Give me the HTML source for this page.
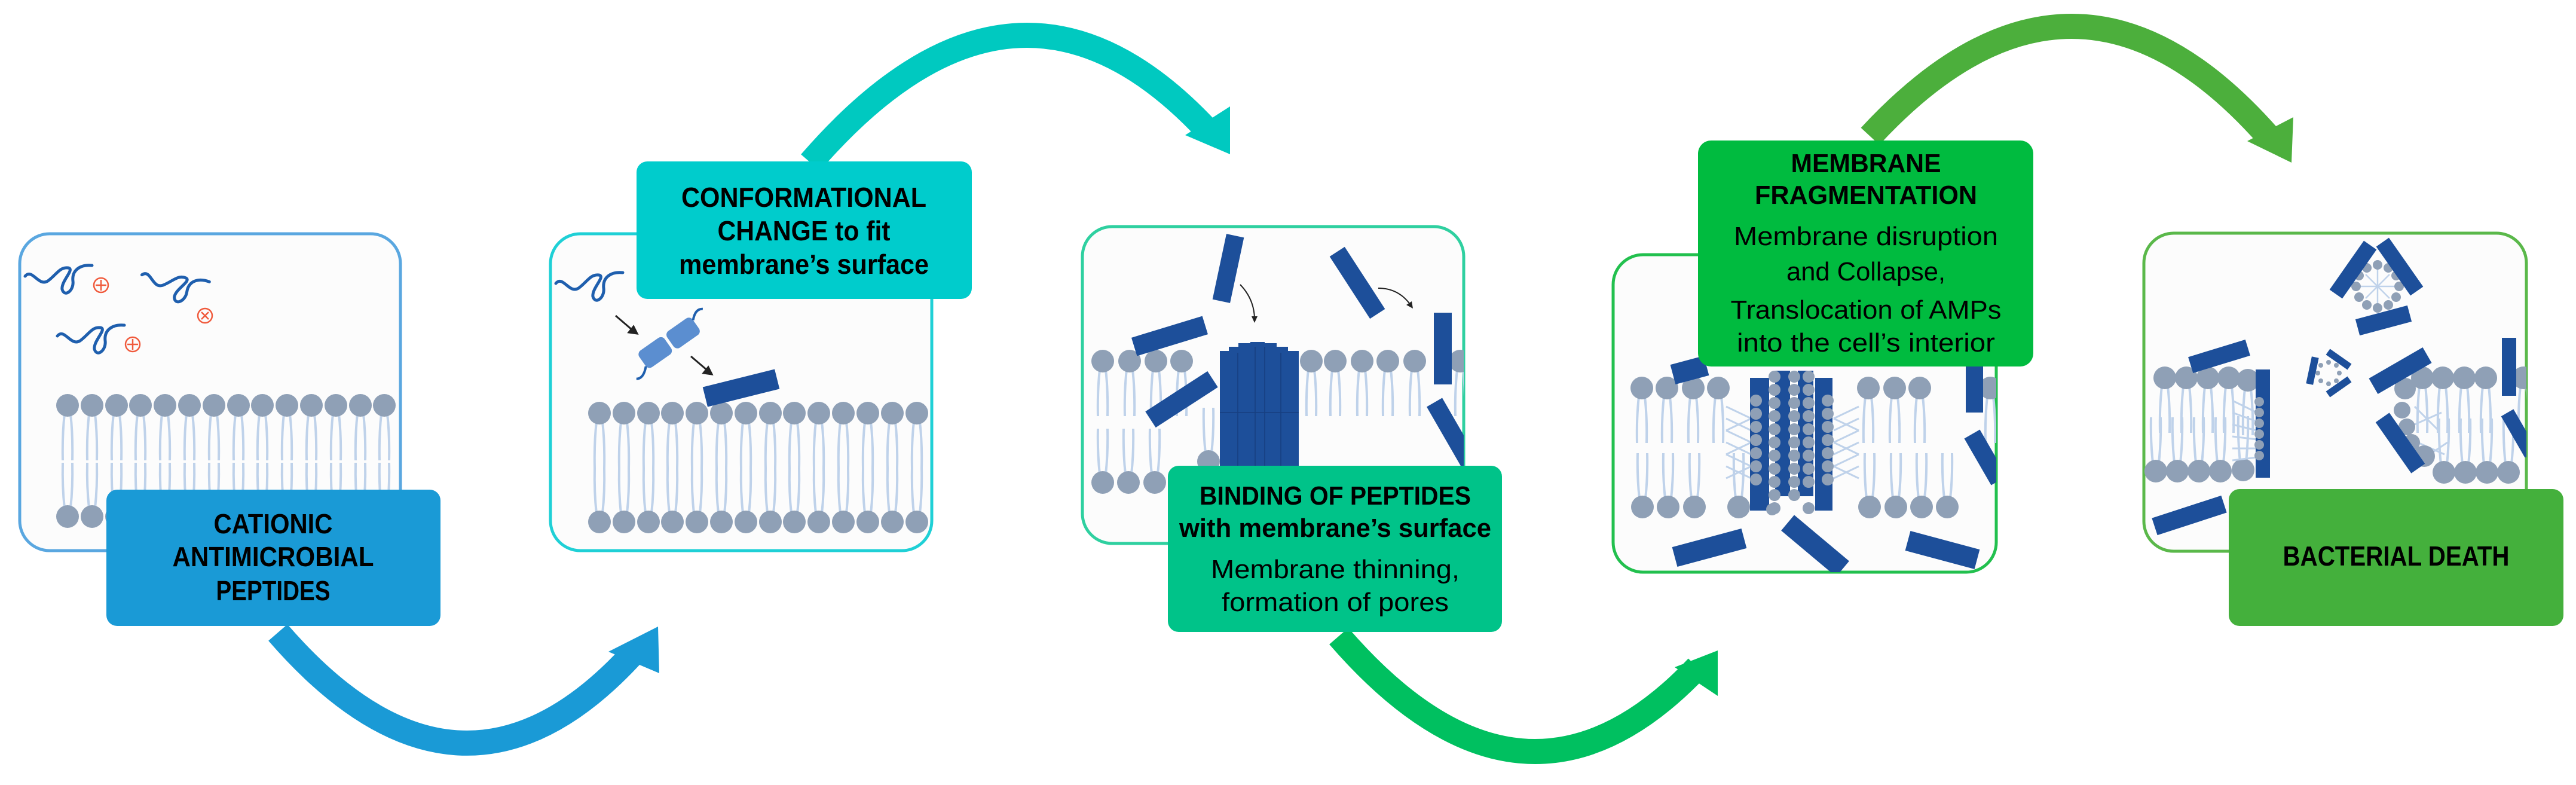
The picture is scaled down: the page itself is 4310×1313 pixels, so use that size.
<!DOCTYPE html>
<html><head><meta charset="utf-8"><style>
html,body{margin:0;padding:0;background:#fff}
svg{display:block}
text{font-family:"Liberation Sans",sans-serif;fill:#000}
.bd{font-weight:bold}
.b{fill:#1d4f9a}
.h{fill:#8fa0b6}
</style></head><body>
<svg width="4310" height="1313" viewBox="0 0 4310 1313" xmlns="http://www.w3.org/2000/svg">
<defs>
<g id="lu"><path d="M-5,14 Q-9,50 -8,92 M5,14 Q9,50 8,92" stroke="#bfd2ea" stroke-width="4" fill="none"/><circle r="19" class="h"/></g>
<g id="ld"><path d="M-5,-14 Q-9,-50 -8,-90 M5,-14 Q9,-50 8,-90" stroke="#bfd2ea" stroke-width="4" fill="none"/><circle r="19" class="h"/></g>
<g id="sq"><path d="M0,22 C12,8 22,40 38,30 C52,20 58,6 72,8 C84,10 60,30 62,44 C66,58 82,46 80,30 C78,12 92,2 112,4" stroke="#1f5fae" stroke-width="5" fill="none" stroke-linecap="round"/></g>
<clipPath id="c1"><rect x="33" y="391" width="637" height="530" rx="50"/></clipPath>
<clipPath id="c2"><rect x="921" y="391" width="638" height="530" rx="50"/></clipPath>
<clipPath id="c3"><rect x="1811" y="379" width="638" height="530" rx="50"/></clipPath>
<clipPath id="c4"><rect x="2699" y="426" width="641" height="531" rx="50"/></clipPath>
<clipPath id="c5"><rect x="3587" y="390" width="640" height="532" rx="50"/></clipPath>
</defs>

<!-- ARROWS -->
<path d="M465,1058 Q770,1410 1060,1092" stroke="#1a9ad6" stroke-width="42" fill="none"/>
<polygon points="1101,1048 1018,1090 1103,1126" fill="#1a9ad6"/>
<path d="M1356,272 Q1700,-125 2020,218" stroke="#00c9c0" stroke-width="42" fill="none"/>
<polygon points="2058,258 1983,226 2058,178" fill="#00c9c0"/>
<path d="M2240,1064 Q2550,1422 2840,1116" stroke="#00c060" stroke-width="42" fill="none"/>
<polygon points="2874,1088 2802,1116 2874,1164" fill="#00c060"/>
<path d="M3129,228 Q3470,-140 3795,228" stroke="#4caf3c" stroke-width="42" fill="none"/>
<polygon points="3834,272 3760,236 3837,196" fill="#4caf3c"/>

<!-- PANEL 1 -->
<rect x="33" y="391" width="637" height="530" rx="50" fill="#fcfcfc" stroke="#5aa7e0" stroke-width="5"/>
<g clip-path="url(#c1)">
<use href="#lu" x="113" y="678"/><use href="#lu" x="154" y="678"/><use href="#lu" x="195" y="678"/><use href="#lu" x="235" y="678"/><use href="#lu" x="276" y="678"/><use href="#lu" x="317" y="678"/><use href="#lu" x="358" y="678"/><use href="#lu" x="399" y="678"/><use href="#lu" x="439" y="678"/><use href="#lu" x="480" y="678"/><use href="#lu" x="521" y="678"/><use href="#lu" x="562" y="678"/><use href="#lu" x="603" y="678"/><use href="#lu" x="643" y="678"/>
<use href="#ld" x="113" y="864"/><use href="#ld" x="154" y="864"/><use href="#ld" x="195" y="864"/><use href="#ld" x="235" y="864"/><use href="#ld" x="276" y="864"/><use href="#ld" x="317" y="864"/><use href="#ld" x="358" y="864"/><use href="#ld" x="399" y="864"/><use href="#ld" x="439" y="864"/><use href="#ld" x="480" y="864"/><use href="#ld" x="521" y="864"/><use href="#ld" x="562" y="864"/><use href="#ld" x="603" y="864"/><use href="#ld" x="643" y="864"/>
</g>
<use href="#sq" x="42" y="440"/><use href="#sq" x="234" y="452" transform="rotate(15 290 480)"/><use href="#sq" x="96" y="540"/>
<g fill="none" stroke="#f05a3c" stroke-width="2.5"><circle cx="169" cy="477" r="12"/><path d="M169,468v18M160,477h18"/><circle cx="343" cy="528" r="12"/><path d="M337,522l12,12M349,522l-12,12"/><circle cx="222" cy="576" r="12"/><path d="M222,567v18M213,576h18"/></g>
<rect x="178" y="819" width="559" height="228" rx="18" fill="#1a9ad6"/>
<text class="bd" font-size="46" x="457" y="892" text-anchor="middle" textLength="199" lengthAdjust="spacingAndGlyphs">CATIONIC</text>
<text class="bd" font-size="46" x="457" y="947" text-anchor="middle" textLength="337" lengthAdjust="spacingAndGlyphs">ANTIMICROBIAL</text>
<text class="bd" font-size="46" x="457" y="1004" text-anchor="middle" textLength="191" lengthAdjust="spacingAndGlyphs">PEPTIDES</text>

<!-- PANEL 2 -->
<rect x="921" y="391" width="638" height="530" rx="50" fill="#fcfcfc" stroke="#1fd0d6" stroke-width="5"/>
<g clip-path="url(#c2)">
<use href="#lu" x="1003" y="691"/><use href="#lu" x="1044" y="691"/><use href="#lu" x="1085" y="691"/><use href="#lu" x="1125" y="691"/><use href="#lu" x="1166" y="691"/><use href="#lu" x="1207" y="691"/><use href="#lu" x="1248" y="691"/><use href="#lu" x="1289" y="691"/><use href="#lu" x="1329" y="691"/><use href="#lu" x="1370" y="691"/><use href="#lu" x="1411" y="691"/><use href="#lu" x="1452" y="691"/><use href="#lu" x="1493" y="691"/><use href="#lu" x="1534" y="691"/>
<use href="#ld" x="1003" y="873"/><use href="#ld" x="1044" y="873"/><use href="#ld" x="1085" y="873"/><use href="#ld" x="1125" y="873"/><use href="#ld" x="1166" y="873"/><use href="#ld" x="1207" y="873"/><use href="#ld" x="1248" y="873"/><use href="#ld" x="1289" y="873"/><use href="#ld" x="1329" y="873"/><use href="#ld" x="1370" y="873"/><use href="#ld" x="1411" y="873"/><use href="#ld" x="1452" y="873"/><use href="#ld" x="1493" y="873"/><use href="#ld" x="1534" y="873"/>
</g>
<use href="#sq" x="930" y="452"/>
<g stroke="#222" stroke-width="3" fill="#222"><path d="M1030,528 L1058,552"/><polygon points="1066,558 1052,556 1060,546"/><path d="M1156,596 L1183,619"/><polygon points="1191,626 1177,624 1185,614"/></g>
<g transform="translate(1120,573) rotate(-35)"><rect x="-55" y="-17" width="52" height="34" rx="8" fill="#5b8ed0"/><rect x="2" y="-17" width="52" height="34" rx="8" fill="#5b8ed0"/><path d="M-55,10 Q-70,25 -80,18 M54,-8 Q68,-22 78,-14" stroke="#1f5fae" stroke-width="4" fill="none"/></g>
<rect x="-62" y="-17" width="124" height="34" class="b" transform="translate(1240,649) rotate(-14)"/>
<rect x="1065" y="270" width="561" height="230" rx="18" fill="#00cccc"/>
<text class="bd" font-size="46" x="1345" y="346" text-anchor="middle" textLength="410" lengthAdjust="spacingAndGlyphs">CONFORMATIONAL</text>
<text class="bd" font-size="46" x="1345" y="402" text-anchor="middle" textLength="289" lengthAdjust="spacingAndGlyphs">CHANGE to fit</text>
<text class="bd" font-size="46" x="1345" y="458" text-anchor="middle" textLength="418" lengthAdjust="spacingAndGlyphs">membrane’s surface</text>

<!-- PANEL 3 -->
<rect x="1811" y="379" width="638" height="530" rx="50" fill="#fcfcfc" stroke="#2fd0a0" stroke-width="5"/>
<g clip-path="url(#c3)">
<use href="#lu" x="1845" y="604"/><use href="#lu" x="1890" y="604"/><use href="#lu" x="1934" y="604"/><use href="#lu" x="1977" y="604"/>
<use href="#lu" x="2194" y="604"/><use href="#lu" x="2234" y="604"/><use href="#lu" x="2279" y="604"/><use href="#lu" x="2322" y="604"/><use href="#lu" x="2367" y="604"/><use href="#lu" x="2443" y="604"/>
<use href="#ld" x="1845" y="807"/><use href="#ld" x="1888" y="807"/><use href="#ld" x="1932" y="807"/><use href="#ld" x="2022" y="772"/>
<g class="b"><rect x="2041" y="587" width="30" height="200"/><rect x="2056" y="580" width="30" height="210"/><rect x="2072" y="574" width="28" height="215"/><rect x="2092" y="572" width="24" height="215"/><rect x="2108" y="574" width="28" height="215"/><rect x="2125" y="580" width="30" height="210"/><rect x="2143" y="587" width="30" height="200"/></g>
<g stroke="#163f80" stroke-width="1.5"><path d="M2071,590V780M2100,580V780M2116,580V780M2143,590V780M2041,690H2173"/></g>
<rect x="-15" y="-56" width="30" height="112" class="b" transform="translate(2055,449) rotate(12)"/>
<rect x="-15" y="-62" width="30" height="124" class="b" transform="translate(2271,473) rotate(-33)"/>
<rect x="-62" y="-16" width="124" height="32" class="b" transform="translate(1957,562) rotate(-17)"/>
<rect x="-62" y="-16" width="124" height="32" class="b" transform="translate(1977,668) rotate(-33)"/>
<rect x="2399" y="523" width="30" height="120" class="b"/>
<rect x="-15" y="-60" width="30" height="120" class="b" transform="translate(2430,725) rotate(-30)"/>
<path d="M2075,476 Q2098,500 2099,532" stroke="#222" stroke-width="2" fill="none"/><polygon points="2099,540 2094,529 2104,529" fill="#222"/>
<path d="M2306,482 Q2340,482 2360,510" stroke="#222" stroke-width="2" fill="none"/><polygon points="2364,516 2353,510 2362,504" fill="#222"/>
</g>
<rect x="1954" y="779" width="559" height="278" rx="18" fill="#00c389"/>
<text class="bd" font-size="44" x="2234" y="844" text-anchor="middle" textLength="454" lengthAdjust="spacingAndGlyphs">BINDING OF PEPTIDES</text>
<text class="bd" font-size="44" x="2234" y="898" text-anchor="middle" textLength="522" lengthAdjust="spacingAndGlyphs">with membrane’s surface</text>
<text font-size="44" x="2234" y="967" text-anchor="middle" textLength="416" lengthAdjust="spacingAndGlyphs">Membrane thinning,</text>
<text font-size="44" x="2234" y="1022" text-anchor="middle" textLength="380" lengthAdjust="spacingAndGlyphs">formation of pores</text>

<!-- PANEL 4 -->
<rect x="2699" y="426" width="641" height="531" rx="50" fill="#fcfcfc" stroke="#22c04e" stroke-width="5"/>
<g clip-path="url(#c4)">
<use href="#lu" x="2747" y="649"/><use href="#lu" x="2789" y="649"/><use href="#lu" x="2833" y="649"/><use href="#lu" x="2875" y="649"/>
<use href="#lu" x="3126" y="649"/><use href="#lu" x="3170" y="649"/><use href="#lu" x="3212" y="649"/><use href="#lu" x="3330" y="649"/>
<use href="#ld" x="2748" y="848"/><use href="#ld" x="2791" y="848"/><use href="#ld" x="2835" y="848"/><use href="#ld" x="2909" y="848"/>
<use href="#ld" x="3128" y="848"/><use href="#ld" x="3172" y="848"/><use href="#ld" x="3215" y="848"/><use href="#ld" x="3258" y="848"/>
<g stroke="#bfd2ea" stroke-width="3" fill="none"><path d="M2888,680 L2930,700 M2888,700 L2930,720 M2888,720 L2930,740 M2888,740 L2930,760 M2888,760 L2930,780 M2888,780 L2930,800 M2888,800 L2930,780 M2888,760 L2930,740 M2888,720 L2930,700"/><path d="M3110,680 L3068,700 M3110,700 L3068,720 M3110,720 L3068,740 M3110,740 L3068,760 M3110,760 L3068,780 M3110,780 L3068,800 M3110,800 L3068,780 M3110,760 L3068,740 M3110,720 L3068,700"/></g>
<g class="b"><rect x="2928" y="632" width="32" height="222"/><rect x="2970" y="620" width="25" height="210"/><rect x="3008" y="620" width="26" height="210"/><rect x="3037" y="632" width="29" height="222"/></g>
<g class="h"><circle cx="2938" cy="670" r="10"/><circle cx="2938" cy="692" r="10"/><circle cx="2938" cy="714" r="10"/><circle cx="2938" cy="736" r="10"/><circle cx="2938" cy="758" r="10"/><circle cx="2938" cy="780" r="10"/><circle cx="2938" cy="802" r="10"/>
<circle cx="2969" cy="630" r="10"/><circle cx="2969" cy="652" r="10"/><circle cx="2969" cy="674" r="10"/><circle cx="2969" cy="696" r="10"/><circle cx="2969" cy="718" r="10"/><circle cx="2969" cy="740" r="10"/><circle cx="2969" cy="762" r="10"/><circle cx="2969" cy="784" r="10"/><circle cx="2969" cy="806" r="10"/><circle cx="2969" cy="828" r="10"/><circle cx="2969" cy="850" r="10"/>
<circle cx="3002" cy="630" r="10"/><circle cx="3002" cy="652" r="10"/><circle cx="3002" cy="674" r="10"/><circle cx="3002" cy="696" r="10"/><circle cx="3002" cy="718" r="10"/><circle cx="3002" cy="740" r="10"/><circle cx="3002" cy="762" r="10"/><circle cx="3002" cy="784" r="10"/><circle cx="3002" cy="806" r="10"/><circle cx="3002" cy="828" r="10"/>
<circle cx="3026" cy="630" r="10"/><circle cx="3026" cy="652" r="10"/><circle cx="3026" cy="674" r="10"/><circle cx="3026" cy="696" r="10"/><circle cx="3026" cy="718" r="10"/><circle cx="3026" cy="740" r="10"/><circle cx="3026" cy="762" r="10"/><circle cx="3026" cy="784" r="10"/><circle cx="3026" cy="806" r="10"/><circle cx="3026" cy="850" r="10"/>
<circle cx="3058" cy="670" r="10"/><circle cx="3058" cy="692" r="10"/><circle cx="3058" cy="714" r="10"/><circle cx="3058" cy="736" r="10"/><circle cx="3058" cy="758" r="10"/><circle cx="3058" cy="780" r="10"/><circle cx="3058" cy="802" r="10"/><circle cx="2965" cy="852" r="10"/></g>
<rect x="-29" y="-17" width="58" height="34" class="b" transform="translate(2827,619) rotate(-15)"/>
<rect x="-60" y="-17" width="120" height="34" class="b" transform="translate(2860,916) rotate(-15)"/>
<rect x="-60" y="-17" width="120" height="34" class="b" transform="translate(3037,913) rotate(40)"/>
<rect x="-60" y="-17" width="120" height="34" class="b" transform="translate(3250,920) rotate(15)"/>
<rect x="3289" y="600" width="29" height="90" class="b"/>
<rect x="-15" y="-45" width="30" height="90" class="b" transform="translate(3322,765) rotate(-30)"/>
</g>
<rect x="2841" y="235" width="561" height="378" rx="22" fill="#00bb3f"/>
<text class="bd" font-size="44" x="3122" y="288" text-anchor="middle" textLength="251" lengthAdjust="spacingAndGlyphs">MEMBRANE</text>
<text class="bd" font-size="44" x="3122" y="341" text-anchor="middle" textLength="372" lengthAdjust="spacingAndGlyphs">FRAGMENTATION</text>
<text font-size="44" x="3122" y="410" text-anchor="middle" textLength="442" lengthAdjust="spacingAndGlyphs">Membrane disruption</text>
<text font-size="44" x="3122" y="469" text-anchor="middle" textLength="266" lengthAdjust="spacingAndGlyphs">and Collapse,</text>
<text font-size="44" x="3122" y="533" text-anchor="middle" textLength="453" lengthAdjust="spacingAndGlyphs">Translocation of AMPs</text>
<text font-size="44" x="3122" y="588" text-anchor="middle" textLength="432" lengthAdjust="spacingAndGlyphs">into the cell’s interior</text>

<!-- PANEL 5 -->
<rect x="3587" y="390" width="640" height="532" rx="50" fill="#fcfcfc" stroke="#5ab84a" stroke-width="5"/>
<g clip-path="url(#c5)">
<use href="#lu" x="3622" y="632"/><use href="#lu" x="3658" y="632"/><use href="#lu" x="3694" y="632"/><use href="#lu" x="3729" y="632"/><use href="#lu" x="3761" y="636"/>
<use href="#ld" x="3607" y="788"/><use href="#ld" x="3643" y="788"/><use href="#ld" x="3679" y="788"/><use href="#ld" x="3715" y="788"/><use href="#ld" x="3753" y="786"/>
<g stroke="#bfd2ea" stroke-width="3"><path d="M3735,670 L3776,690 M3735,690 L3776,705 M3735,710 L3776,720 M3735,730 L3776,735 M3735,750 L3776,750 M3735,770 L3776,765"/></g>
<rect x="3774" y="618" width="24" height="181" class="b"/>
<g class="h"><circle cx="3780" cy="672" r="8"/><circle cx="3780" cy="690" r="8"/><circle cx="3780" cy="708" r="8"/><circle cx="3780" cy="726" r="8"/><circle cx="3780" cy="744" r="8"/><circle cx="3780" cy="762" r="8"/></g>
<rect x="-50" y="-14" width="100" height="28" class="b" transform="translate(3713,596) rotate(-17)"/>
<rect x="-61" y="-15" width="122" height="30" class="b" transform="translate(3663,862) rotate(-18)"/>
<g stroke="#bfd2ea" stroke-width="2.5"><path d="M3950,479H4006M3978,451V507M3958,459L3998,499M3998,459L3958,499"/></g>
<g class="h"><circle cx="4014" cy="479" r="8"/><circle cx="4009" cy="497" r="8"/><circle cx="3996" cy="510" r="8"/><circle cx="3978" cy="515" r="8"/><circle cx="3960" cy="510" r="8"/><circle cx="3947" cy="497" r="8"/><circle cx="3942" cy="479" r="8"/><circle cx="3947" cy="461" r="8"/><circle cx="3960" cy="448" r="8"/><circle cx="3978" cy="443" r="8"/><circle cx="3996" cy="448" r="8"/><circle cx="4009" cy="461" r="8"/></g>
<rect x="-50" y="-13" width="100" height="26" class="b" transform="translate(3937,451) rotate(-55)"/>
<rect x="-50" y="-13" width="100" height="26" class="b" transform="translate(4015,446) rotate(55)"/>
<rect x="-45" y="-14" width="90" height="28" class="b" transform="translate(3988,536) rotate(-15)"/>
<g class="h"><circle cx="3914" cy="624" r="4"/><circle cx="3909" cy="637" r="4"/><circle cx="3896" cy="642" r="4"/><circle cx="3883" cy="637" r="4"/><circle cx="3878" cy="624" r="4"/><circle cx="3883" cy="611" r="4"/><circle cx="3896" cy="606" r="4"/><circle cx="3909" cy="611" r="4"/></g>
<rect x="-6" y="-23" width="12" height="46" class="b" transform="translate(3869,620) rotate(12)"/>
<rect x="-22" y="-6" width="44" height="12" class="b" transform="translate(3913,601) rotate(35)"/>
<rect x="-22" y="-6" width="44" height="12" class="b" transform="translate(3913,647) rotate(-35)"/>
<use href="#lu" x="4053" y="632"/><use href="#lu" x="4087" y="632"/><use href="#lu" x="4123" y="632"/><use href="#lu" x="4159" y="632"/><use href="#lu" x="4222" y="632"/>
<use href="#ld" x="4089" y="790"/><use href="#ld" x="4125" y="790"/><use href="#ld" x="4161" y="790"/><use href="#ld" x="4197" y="790"/>
<g stroke="#bfd2ea" stroke-width="3"><path d="M4040,680 L4080,720 M4040,710 L4085,690 M4045,740 L4090,760 M4050,770 L4095,740"/></g>
<g class="h"><circle cx="4024" cy="650" r="18"/><circle cx="4019" cy="686" r="14"/><circle cx="4027" cy="714" r="14"/><circle cx="4035" cy="740" r="14"/><circle cx="4056" cy="763" r="18"/></g>
<rect x="-52" y="-15" width="104" height="30" class="b" transform="translate(4016,620) rotate(-30)"/>
<rect x="-52" y="-14" width="104" height="28" class="b" transform="translate(4016,741) rotate(55)"/>
<rect x="4186" y="565" width="24" height="97" class="b"/>
<rect x="-12" y="-40" width="24" height="80" class="b" transform="translate(4215,725) rotate(-30)"/>
</g>
<rect x="3729" y="818" width="560" height="229" rx="18" fill="#44b03c"/>
<text class="bd" font-size="46" x="4009" y="946" text-anchor="middle" textLength="379" lengthAdjust="spacingAndGlyphs">BACTERIAL DEATH</text>
</svg>
</body></html>
